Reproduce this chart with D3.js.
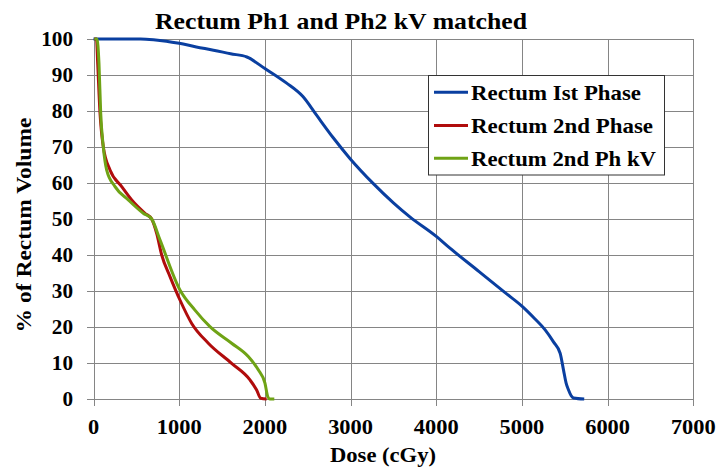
<!DOCTYPE html>
<html>
<head>
<meta charset="utf-8">
<script src="https://cdn.jsdelivr.net/npm/d3@7"></script>
</head>
<body style="margin:0">
<svg id="chart" width="718" height="468" font-family="Times New Roman" font-weight="bold"></svg>
<script>
// ---- data ----
const chartTitle = "Rectum Ph1 and Ph2 kV matched";
const xTitle = "Dose (cGy)";
const yTitle = "% of Rectum Volume";
const xTicks = [0, 1000, 2000, 3000, 4000, 5000, 6000, 7000];
const yTicks = [0, 10, 20, 30, 40, 50, 60, 70, 80, 90, 100];
const seriesNames = ["Rectum Ist Phase", "Rectum 2nd Phase", "Rectum 2nd Ph kV"];

const dosePh1 = [0, 550, 700, 850, 1000, 1200, 1400, 1600, 1790, 2000, 2250, 2444, 2601, 2800, 2990, 3263, 3500, 3692, 4004, 4160, 4500, 4800, 5000, 5150, 5271, 5370, 5446, 5485, 5515, 5544, 5575, 5602, 5727];
const volPh1  = [100, 100, 99.8, 99.4, 98.8, 97.8, 96.9, 95.9, 95.0, 91.8, 87.8, 84.0, 78.9, 72.5, 66.9, 59.9, 54.5, 50.6, 45.1, 41.9, 35.4, 29.6, 25.8, 22.3, 19.2, 15.8, 12.7, 8.1, 4.5, 2.5, 0.9, 0.3, 0];

const dosePh2 = [10, 35, 49, 76, 114, 193, 329, 446, 601, 679, 737, 796, 893, 1009, 1146, 1340, 1612, 1826, 1904, 1951, 2021];
const volPh2  = [100, 100, 93.2, 79.4, 70.1, 63.6, 59, 55.3, 51.6, 50, 46, 40, 34, 27.5, 21, 15.5, 9.9, 5.3, 2.5, 0.2, 0];

const dosePh2kV = [10, 40, 64, 84, 114, 154, 251, 406, 581, 679, 776, 1009, 1184, 1359, 1612, 1806, 1923, 2001, 2033, 2058, 2110];
const volPh2kV  = [100, 100, 93.2, 79.4, 70.1, 63.6, 59, 55.3, 51.6, 50, 44.2, 30.3, 24.7, 20.1, 15.5, 11.8, 8.1, 4.4, 0.7, 0, 0];

// ---- drawing ----
const svg = d3.select("#chart");
const colors = ["#0A3FA0", "#B00C0C", "#6FA315"];

const x = d3.scaleLinear().domain([0, 7000]).range([93.5, 693.3]);
const y = d3.scaleLinear().domain([0, 100]).range([399, 39]);

function txt(sel) {
  return sel.attr("font-family", "Times New Roman").attr("font-weight", "bold");
}

const grid = svg.append("g").attr("shape-rendering", "crispEdges");
grid.selectAll("line.h").data(yTicks).join("line")
  .attr("x1", x(0) - 7).attr("x2", x(7000))
  .attr("y1", d => Math.round(y(d)) + 0.5).attr("y2", d => Math.round(y(d)) + 0.5)
  .attr("stroke", "#858585").attr("stroke-width", 1);
grid.selectAll("line.v").data(xTicks).join("line")
  .attr("y1", y(100)).attr("y2", y(0) + 7)
  .attr("x1", d => Math.round(x(d)) + 0.5).attr("x2", d => Math.round(x(d)) + 0.5)
  .attr("stroke", "#858585").attr("stroke-width", 1);

// tick labels
txt(svg.append("g").selectAll("text").data(yTicks).join("text"))
  .attr("x", 73).attr("y", d => y(d) + 7)
  .attr("text-anchor", "end").attr("font-size", 20)
  .attr("textLength", d => String(d).length * 10.6).attr("lengthAdjust", "spacingAndGlyphs")
  .text(d => d);
txt(svg.append("g").selectAll("text").data(xTicks).join("text"))
  .attr("x", d => x(d)).attr("y", 434)
  .attr("text-anchor", "middle").attr("font-size", 21)
  .attr("textLength", d => String(d).length * 11.2).attr("lengthAdjust", "spacingAndGlyphs")
  .text(d => d);

// lines
const line = d3.line().x(d => x(d[0])).y(d => y(d[1])).curve(d3.curveMonotoneX);
const series = [
  d3.zip(dosePh1, volPh1),
  d3.zip(dosePh2, volPh2),
  d3.zip(dosePh2kV, volPh2kV)
];
svg.append("g").selectAll("path").data([0, 1, 2]).join("path")
  .attr("d", i => line(series[i]))
  .attr("fill", "none")
  .attr("stroke", i => colors[i])
  .attr("stroke-width", 3)
  .attr("stroke-linejoin", "round");

// titles
txt(svg.append("text")).attr("x", 341).attr("y", 29)
  .attr("text-anchor", "middle").attr("font-size", 24)
  .attr("textLength", 372).attr("lengthAdjust", "spacingAndGlyphs")
  .text(chartTitle);
txt(svg.append("text")).attr("x", 383).attr("y", 462)
  .attr("text-anchor", "middle").attr("font-size", 21)
  .attr("textLength", 106).attr("lengthAdjust", "spacingAndGlyphs")
  .text(xTitle);
txt(svg.append("text")).attr("transform", "translate(31,225) rotate(-90)")
  .attr("text-anchor", "middle").attr("font-size", 21)
  .attr("textLength", 215).attr("lengthAdjust", "spacingAndGlyphs")
  .text(yTitle);

// legend
const lg = svg.append("g");
lg.append("rect").attr("x", 428.5).attr("y", 75.5).attr("width", 236).attr("height", 99.5)
  .attr("fill", "#fff").attr("stroke", "#333").attr("stroke-width", 1);
const legendRows = [92.3, 125.5, 158.3];
const legendWidths = [170, 182, 185];
seriesNames.forEach((name, i) => {
  lg.append("line").attr("x1", 434).attr("x2", 468)
    .attr("y1", legendRows[i]).attr("y2", legendRows[i])
    .attr("stroke", colors[i]).attr("stroke-width", 3);
  txt(lg.append("text")).attr("x", 471).attr("y", legendRows[i] + 7.5)
    .attr("font-size", 21)
    .attr("textLength", legendWidths[i]).attr("lengthAdjust", "spacingAndGlyphs")
    .text(name);
});
</script>
</body>
</html>
